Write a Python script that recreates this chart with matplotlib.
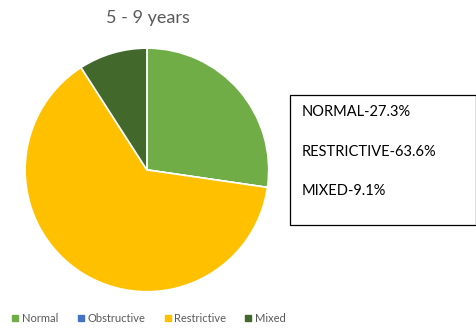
import matplotlib.pyplot as plt

labels = ["Normal", "Obstructive", "Restrictive", "Mixed"]
values = [27.3, 0.0, 63.6, 9.1]
colors = ["#70AD47", "#4472C4", "#FFC000", "#43682B"]
box_lines = ["NORMAL-27.3%", "RESTRICTIVE-63.6%", "MIXED-9.1%"]
title = "5 - 9 years"

plt.rcParams['font.family'] = ['Lato', 'DejaVu Sans']

fig = plt.figure(figsize=(4.77, 3.28), dpi=100)
ax = fig.add_axes([0.05, 0.107, 0.516, 0.75])

wedges, _ = ax.pie(values, colors=colors, startangle=90, counterclock=False,
                   wedgeprops=dict(edgecolor="white", linewidth=1.2))
ax.set_xlim(-1.01, 1.01)
ax.set_ylim(-1.01, 1.01)
ax.set_aspect("equal")

fig.text(0.31, 0.945, title, ha="center", va="center", fontsize=13, color="#595959")

# text box on the right
box = plt.Rectangle((0.608, 0.315), 0.39, 0.395, transform=fig.transFigure,
                    facecolor="white", edgecolor="black", linewidth=0.9)
fig.add_artist(box)
for i, line in enumerate(box_lines):
    fig.text(0.632, 0.658 - i * 0.12, line, ha="left", va="center",
             fontsize=10.5, color="black")

# legend at the bottom
handles = [plt.Line2D([], [], marker="s", linestyle="", markersize=4,
                      markerfacecolor=c, markeredgecolor=c) for c in colors]
fig.legend(handles, labels, loc="center", bbox_to_anchor=(0.31, 0.03), ncol=4,
           frameon=False, fontsize=8, labelcolor="#595959", handletextpad=0.1,
           columnspacing=1.5, handlelength=1)

fig.savefig("out.png", dpi=100)
